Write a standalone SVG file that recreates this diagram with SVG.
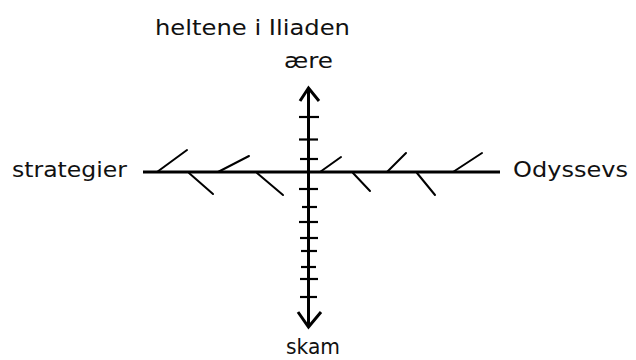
<svg xmlns="http://www.w3.org/2000/svg" width="636" height="360" viewBox="0 0 636 360">
<style>
text{font-family:"DejaVu Sans","Verdana",sans-serif;font-size:21px;fill:#111}
.axis{stroke:#000;stroke-width:3;fill:none;stroke-linecap:butt}
.tick{stroke:#000;stroke-width:2.2;fill:none}
.hatch{stroke:#000;stroke-width:2;fill:none;stroke-linecap:round}
</style>
<rect width="636" height="360" fill="#fff"/>
<g id="labels">
<g id="title"><text x="155" y="35" textLength="195" lengthAdjust="spacingAndGlyphs">heltene i Iliaden</text></g>
<g id="aere"><text x="284" y="68" textLength="49" lengthAdjust="spacingAndGlyphs">ære</text></g>
<g id="strategier"><text x="12" y="177" textLength="115" lengthAdjust="spacingAndGlyphs">strategier</text></g>
<g id="odyssevs"><text x="513" y="177" textLength="115" lengthAdjust="spacingAndGlyphs">Odyssevs</text></g>
<g id="skam"><text x="286" y="354" textLength="54" lengthAdjust="spacingAndGlyphs">skam</text></g>
</g>
<g id="connectors">
<line class="axis" x1="143" y1="172" x2="500" y2="172"/>
<line class="axis" x1="308.5" y1="88" x2="308.5" y2="327"/>
<polyline class="axis" points="300,101 308.5,88 319,101"/>
<polyline class="axis" points="298,312 308.5,327 321,312"/>
<g class="tick">
<line x1="299" y1="117" x2="319" y2="117"/>
<line x1="299" y1="139.5" x2="318" y2="139.5"/>
<line x1="300" y1="159" x2="318" y2="159"/>
<line x1="299" y1="189" x2="318" y2="189"/>
<line x1="302" y1="207" x2="317" y2="207"/>
<line x1="299" y1="222" x2="318" y2="222"/>
<line x1="300" y1="238" x2="318" y2="238"/>
<line x1="301" y1="251" x2="317" y2="251"/>
<line x1="301" y1="267" x2="316" y2="267"/>
<line x1="300" y1="279" x2="318" y2="279"/>
<line x1="300" y1="297" x2="317" y2="297"/>
</g>
<g class="hatch">
<line x1="157" y1="172" x2="187" y2="150"/>
<line x1="218" y1="172" x2="249" y2="156"/>
<line x1="320" y1="172" x2="341" y2="157"/>
<line x1="387" y1="172" x2="406" y2="153"/>
<line x1="453" y1="172" x2="482" y2="153"/>
<line x1="189" y1="173" x2="213" y2="194"/>
<line x1="257" y1="173" x2="283" y2="195"/>
<line x1="353" y1="173" x2="370" y2="191"/>
<line x1="417" y1="173" x2="435" y2="195"/>
</g>
</g>
</svg>
